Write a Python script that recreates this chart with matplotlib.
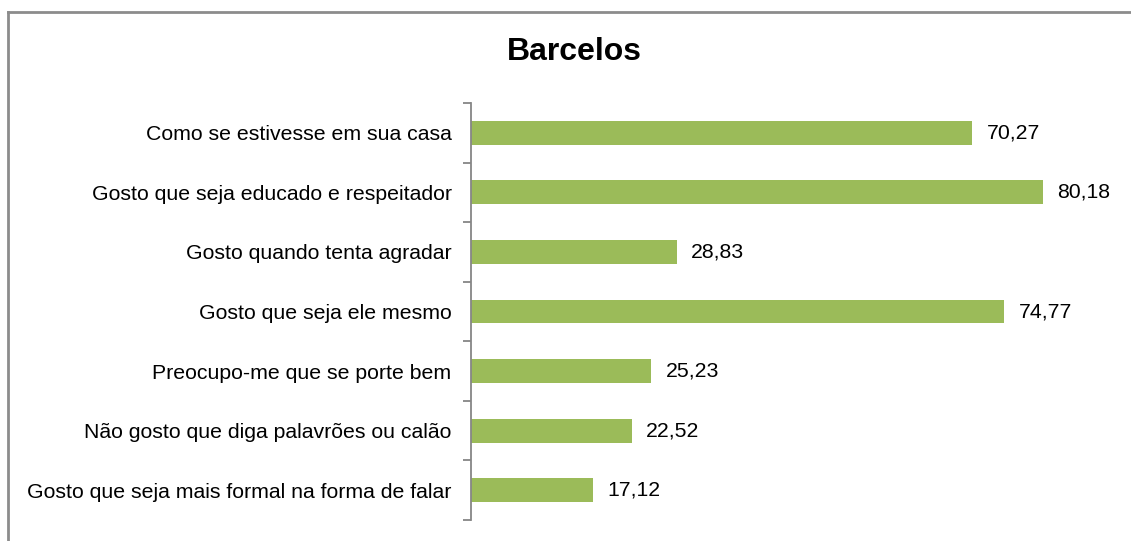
import matplotlib.pyplot as plt
from matplotlib.lines import Line2D

categories = [
    'Como se estivesse em sua casa',
    'Gosto que seja educado e respeitador',
    'Gosto quando tenta agradar',
    'Gosto que seja ele mesmo',
    'Preocupo-me que se porte bem',
    'Não gosto que diga palavrões ou calão',
    'Gosto que seja mais formal na forma de falar',
]
values = [70.27, 80.18, 28.83, 74.77, 25.23, 22.52, 17.12]
value_labels = ['70,27', '80,18', '28,83', '74,77', '25,23', '22,52', '17,12']

plt.rcParams['font.family'] = ['Liberation Sans', 'DejaVu Sans']

fig = plt.figure(figsize=(11.31, 5.41), dpi=100)
ax = fig.add_axes([0.4164, 0.0388, 0.5676, 0.7708])

n = len(categories)
pos = list(range(n))
ax.barh(pos, values, height=0.4, color='#9BBB59', edgecolor='none')
ax.set_ylim(n - 0.5, -0.5)
ax.set_xlim(0, 90)

for p, v, lab in zip(pos, values, value_labels):
    ax.annotate(lab, (v, p), xytext=(10.5, 0), textcoords='offset points',
                ha='left', va='center', fontsize=15.3, color='black')

# category ticks sit on the boundaries between bars
ax.set_yticks([p - 0.5 for p in pos] + [n - 0.5])
ax.set_yticklabels([])
ax.set_yticks(pos, minor=True)
ax.set_yticklabels(categories, minor=True, fontsize=15.3)
ax.tick_params(axis='y', which='major', length=6, width=1.3, color='#868686', direction='out')
ax.tick_params(axis='y', which='minor', length=0, pad=14)

ax.set_xticks([])
for s in ['top', 'right', 'bottom']:
    ax.spines[s].set_visible(False)
ax.spines['left'].set_color('#868686')
ax.spines['left'].set_linewidth(1.3)

fig.text(0.508, 0.904, 'Barcelos', ha='center', va='center', fontsize=23, fontweight='bold')

# outer chart frame (top and left edges)
fy = 1 - 12 / 541
fx = 8 / 1131
fig.add_artist(Line2D([fx, 1], [fy, fy], transform=fig.transFigure, color='#8c8c8c', lw=2))
fig.add_artist(Line2D([fx, fx], [0, fy], transform=fig.transFigure, color='#8c8c8c', lw=2))

fig.savefig('out.png', dpi=100)
